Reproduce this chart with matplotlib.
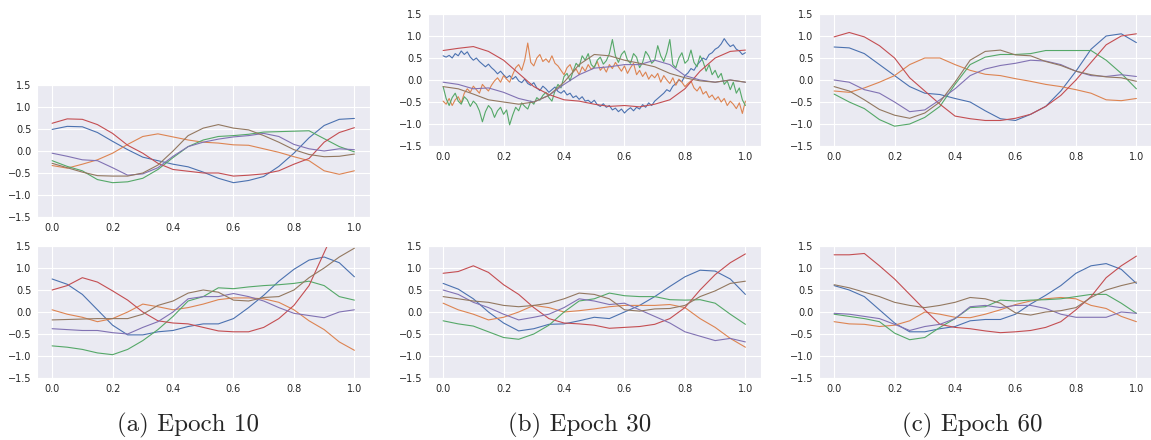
import numpy as np
import matplotlib.pyplot as plt
import seaborn as sns

sns.set_style("darkgrid")
colors = sns.color_palette("deep")[:6]

# x 좌표 (smooth: 0.05 간격, noisy: 0.01 간격)
x = np.linspace(0, 1, 21)
x_noisy = np.linspace(0, 1, 101)

# ---- Epoch 10 ----
e10_top_blue = [0.49, 0.56, 0.55, 0.42, 0.22, 0.03, -0.14, -0.22, -0.30, -0.36, -0.48, -0.62, -0.72, -0.67, -0.58, -0.35, -0.05, 0.30, 0.58, 0.72, 0.74]
e10_top_orange = [-0.33, -0.39, -0.30, -0.20, -0.05, 0.15, 0.33, 0.39, 0.32, 0.25, 0.20, 0.18, 0.14, 0.13, 0.05, -0.03, -0.13, -0.22, -0.45, -0.53, -0.45]
e10_top_green = [-0.22, -0.35, -0.45, -0.65, -0.72, -0.70, -0.62, -0.42, -0.15, 0.10, 0.25, 0.33, 0.35, 0.38, 0.43, 0.44, 0.45, 0.46, 0.28, 0.10, -0.02]
e10_top_red = [0.63, 0.73, 0.72, 0.60, 0.40, 0.13, -0.05, -0.28, -0.42, -0.46, -0.50, -0.50, -0.57, -0.55, -0.52, -0.45, -0.30, -0.17, 0.20, 0.42, 0.53]
e10_top_purple = [-0.05, -0.12, -0.20, -0.22, -0.38, -0.55, -0.52, -0.38, -0.12, 0.10, 0.20, 0.27, 0.32, 0.35, 0.40, 0.33, 0.15, 0.05, 0.00, 0.05, 0.03]
e10_top_brown = [-0.28, -0.38, -0.48, -0.56, -0.57, -0.57, -0.50, -0.32, 0.00, 0.35, 0.52, 0.60, 0.52, 0.48, 0.35, 0.20, 0.03, -0.08, -0.13, -0.12, -0.07]

e10_bot_blue = [0.75, 0.63, 0.40, 0.05, -0.30, -0.52, -0.52, -0.45, -0.42, -0.33, -0.27, -0.27, -0.15, 0.10, 0.38, 0.70, 0.97, 1.18, 1.25, 1.12, 0.80]
e10_bot_orange = [0.05, -0.05, -0.12, -0.22, -0.15, 0.00, 0.18, 0.12, 0.05, 0.10, 0.18, 0.28, 0.32, 0.32, 0.30, 0.22, 0.05, -0.20, -0.40, -0.68, -0.87]
e10_bot_green = [-0.77, -0.80, -0.85, -0.93, -0.97, -0.85, -0.65, -0.40, -0.10, 0.25, 0.35, 0.55, 0.53, 0.57, 0.60, 0.62, 0.65, 0.70, 0.60, 0.35, 0.27]
e10_bot_red = [0.50, 0.60, 0.78, 0.68, 0.48, 0.27, 0.00, -0.20, -0.25, -0.27, -0.35, -0.43, -0.45, -0.45, -0.35, -0.15, 0.15, 0.60, 1.35, 2.10, 2.60]
e10_bot_purple = [-0.38, -0.40, -0.42, -0.42, -0.47, -0.50, -0.35, -0.22, 0.00, 0.30, 0.35, 0.35, 0.42, 0.35, 0.25, 0.10, -0.03, -0.08, -0.13, 0.00, 0.05]
e10_bot_brown = [-0.18, -0.17, -0.16, -0.15, -0.15, -0.15, -0.05, 0.15, 0.25, 0.43, 0.50, 0.45, 0.27, 0.25, 0.33, 0.35, 0.50, 0.78, 1.00, 1.25, 1.45]

# ---- Epoch 30 ----
e30_top_blue = [0.55, 0.52, 0.56, 0.50, 0.60, 0.55, 0.66, 0.58, 0.64, 0.52,
                0.45, 0.50, 0.42, 0.36, 0.30, 0.36, 0.28, 0.22, 0.14, 0.20,
                0.12, 0.05, 0.10, 0.02, 0.08, -0.02, -0.06, 0.02, -0.08, -0.12,
                -0.06, -0.18, -0.24, -0.14, -0.20, -0.28, -0.22, -0.16, -0.26, -0.30,
                -0.24, -0.34, -0.30, -0.40, -0.36, -0.44, -0.38, -0.48, -0.46, -0.52,
                -0.46, -0.56, -0.60, -0.54, -0.62, -0.58, -0.68, -0.64, -0.72, -0.66,
                -0.75, -0.68, -0.63, -0.70, -0.62, -0.66, -0.56, -0.62, -0.52, -0.58,
                -0.48, -0.42, -0.36, -0.30, -0.22, -0.26, -0.14, -0.08, 0.00, -0.04,
                0.10, 0.16, 0.26, 0.22, 0.34, 0.42, 0.50, 0.46, 0.58, 0.62,
                0.70, 0.74, 0.82, 0.94, 0.84, 0.76, 0.80, 0.70, 0.66, 0.58,
                0.62]
e30_top_orange = [-0.48, -0.55, -0.42, -0.58, -0.45, -0.38, -0.52, -0.30, -0.20, -0.28,
                  -0.14, -0.22, -0.30, -0.10, -0.18, -0.25, -0.12, -0.02, 0.05, -0.05,
                  0.10, 0.02, -0.05, 0.12, 0.28, 0.35, 0.22, 0.45, 0.84, 0.40,
                  0.32, 0.50, 0.58, 0.42, 0.48, 0.40, 0.55, 0.38, 0.32, 0.22,
                  0.12, 0.28, 0.35, 0.18, 0.25, 0.12, 0.30, 0.20, 0.35, 0.24,
                  0.30, 0.42, 0.22, 0.30, 0.18, 0.35, 0.26, 0.40, 0.30, 0.20,
                  0.32, 0.15, 0.28, 0.38, 0.12, 0.22, 0.08, 0.18, 0.02, 0.12,
                  0.05, 0.15, -0.05, 0.10, 0.00, -0.08, 0.05, -0.12, 0.02, -0.05,
                  -0.15, -0.08, -0.02, -0.18, -0.25, -0.15, -0.32, -0.26, -0.40, -0.34,
                  -0.45, -0.38, -0.50, -0.42, -0.58, -0.48, -0.55, -0.65, -0.52, -0.76,
                  -0.48]
e30_top_green = [-0.15, -0.42, -0.58, -0.40, -0.30, -0.48, -0.55, -0.38, -0.45, -0.60,
                 -0.48, -0.55, -0.70, -0.95, -0.72, -0.58, -0.66, -0.85, -0.70, -0.62,
                 -0.78, -0.68, -1.02, -0.80, -0.62, -0.70, -0.52, -0.60, -0.66, -0.48,
                 -0.55, -0.40, -0.46, -0.35, -0.28, -0.40, -0.48, -0.25, -0.10, -0.18,
                 0.08, 0.15, -0.02, 0.20, 0.38, 0.30, 0.55, 0.45, 0.60, 0.35,
                 0.28, 0.45, 0.52, 0.36, 0.44, 0.60, 0.92, 0.55, 0.40, 0.58,
                 0.66, 0.45, 0.38, 0.60, 0.52, 0.28, 0.40, 0.65, 0.55, 0.38,
                 0.45, 0.78, 0.55, 0.42, 0.62, 0.92, 0.35, 0.28, 0.50, 0.62,
                 0.38, 0.45, 0.68, 0.40, 0.30, 0.55, 0.42, 0.20, 0.35, 0.12,
                 0.22, 0.05, 0.15, -0.10, -0.02, -0.22, -0.05, -0.30, -0.18, -0.45,
                 -0.58]
e30_top_red = [0.67, 0.72, 0.76, 0.65, 0.45, 0.15, -0.15, -0.33, -0.45, -0.48, -0.55, -0.60, -0.58, -0.61, -0.55, -0.45, -0.20, 0.20, 0.50, 0.65, 0.68]
e30_top_purple = [-0.05, -0.10, -0.20, -0.18, -0.28, -0.42, -0.50, -0.35, -0.10, 0.12, 0.27, 0.30, 0.35, 0.35, 0.45, 0.35, 0.10, 0.00, -0.05, 0.00, -0.05]
e30_top_brown = [-0.15, -0.20, -0.32, -0.45, -0.50, -0.55, -0.50, -0.35, -0.05, 0.35, 0.58, 0.55, 0.45, 0.38, 0.30, 0.15, 0.05, -0.02, -0.05, 0.00, -0.05]

e30_bot_blue = [0.65, 0.52, 0.30, 0.00, -0.25, -0.43, -0.38, -0.28, -0.27, -0.20, -0.12, -0.15, 0.00, 0.15, 0.35, 0.58, 0.80, 0.95, 0.93, 0.75, 0.40]
e30_bot_orange = [0.20, 0.05, -0.05, -0.18, -0.12, 0.00, 0.15, 0.10, 0.00, 0.03, 0.07, 0.12, 0.15, 0.15, 0.15, 0.17, 0.10, -0.15, -0.35, -0.60, -0.80]
e30_bot_green = [-0.20, -0.27, -0.32, -0.45, -0.58, -0.62, -0.50, -0.30, 0.00, 0.25, 0.30, 0.43, 0.37, 0.35, 0.35, 0.28, 0.27, 0.28, 0.20, -0.05, -0.28]
e30_bot_red = [0.88, 0.92, 1.05, 0.90, 0.62, 0.40, 0.10, -0.15, -0.25, -0.27, -0.30, -0.37, -0.35, -0.33, -0.28, -0.15, 0.10, 0.50, 0.85, 1.12, 1.32]
e30_bot_purple = [0.50, 0.40, 0.22, 0.10, -0.05, -0.18, -0.12, -0.05, 0.10, 0.30, 0.25, 0.17, 0.20, 0.05, -0.10, -0.25, -0.45, -0.55, -0.65, -0.60, -0.68]
e30_bot_brown = [0.35, 0.30, 0.25, 0.22, 0.15, 0.12, 0.15, 0.20, 0.30, 0.43, 0.40, 0.30, 0.05, 0.02, 0.07, 0.08, 0.15, 0.35, 0.48, 0.65, 0.70]

# ---- Epoch 60 ----
e60_top_blue = [0.75, 0.73, 0.60, 0.35, 0.10, -0.15, -0.30, -0.33, -0.42, -0.50, -0.70, -0.88, -0.92, -0.78, -0.60, -0.25, 0.20, 0.70, 1.00, 1.05, 0.85]
e60_top_orange = [-0.25, -0.28, -0.18, -0.05, 0.10, 0.35, 0.50, 0.50, 0.35, 0.22, 0.13, 0.10, 0.03, -0.03, -0.10, -0.15, -0.22, -0.30, -0.45, -0.47, -0.42]
e60_top_green = [-0.32, -0.50, -0.65, -0.90, -1.05, -1.00, -0.85, -0.60, -0.10, 0.35, 0.52, 0.58, 0.58, 0.60, 0.67, 0.67, 0.67, 0.67, 0.45, 0.15, -0.20]
e60_top_red = [0.98, 1.08, 0.98, 0.78, 0.50, 0.05, -0.25, -0.55, -0.82, -0.88, -0.92, -0.92, -0.87, -0.78, -0.60, -0.35, 0.00, 0.40, 0.80, 1.00, 1.05]
e60_top_purple = [0.00, -0.05, -0.22, -0.30, -0.50, -0.72, -0.68, -0.45, -0.20, 0.10, 0.25, 0.33, 0.38, 0.45, 0.43, 0.35, 0.20, 0.10, 0.08, 0.12, 0.08]
e60_top_brown = [-0.15, -0.25, -0.45, -0.67, -0.80, -0.87, -0.75, -0.50, -0.05, 0.45, 0.65, 0.68, 0.57, 0.55, 0.42, 0.33, 0.20, 0.12, 0.07, 0.05, -0.03]

e60_bot_blue = [0.60, 0.50, 0.35, 0.05, -0.25, -0.45, -0.45, -0.38, -0.33, -0.20, -0.17, -0.17, -0.05, 0.18, 0.38, 0.60, 0.88, 1.05, 1.10, 0.97, 0.65]
e60_bot_orange = [-0.22, -0.27, -0.28, -0.33, -0.30, -0.20, 0.00, -0.05, -0.12, -0.13, -0.05, 0.05, 0.17, 0.25, 0.30, 0.33, 0.30, 0.15, 0.08, -0.10, -0.22]
e60_bot_green = [-0.05, -0.10, -0.15, -0.22, -0.48, -0.63, -0.58, -0.35, -0.15, 0.10, 0.12, 0.27, 0.25, 0.27, 0.28, 0.30, 0.35, 0.40, 0.40, 0.20, -0.03]
e60_bot_red = [1.30, 1.30, 1.33, 1.05, 0.75, 0.40, 0.05, -0.28, -0.35, -0.38, -0.43, -0.47, -0.45, -0.42, -0.35, -0.22, 0.05, 0.35, 0.78, 1.05, 1.27]
e60_bot_purple = [-0.03, -0.05, -0.10, -0.15, -0.28, -0.42, -0.33, -0.28, -0.15, 0.12, 0.15, 0.10, 0.15, 0.15, 0.08, -0.05, -0.12, -0.12, -0.12, 0.00, -0.03]
e60_bot_brown = [0.62, 0.55, 0.45, 0.35, 0.22, 0.15, 0.10, 0.15, 0.22, 0.33, 0.30, 0.20, -0.02, -0.07, 0.00, 0.03, 0.10, 0.33, 0.50, 0.60, 0.68]

captions = ["(a) Epoch 10", "(b) Epoch 30", "(c) Epoch 60"]

panels = [
    [e10_top_blue, e10_top_orange, e10_top_green, e10_top_red, e10_top_purple, e10_top_brown],
    [e10_bot_blue, e10_bot_orange, e10_bot_green, e10_bot_red, e10_bot_purple, e10_bot_brown],
    [e30_top_blue, e30_top_orange, e30_top_green, e30_top_red, e30_top_purple, e30_top_brown],
    [e30_bot_blue, e30_bot_orange, e30_bot_green, e30_bot_red, e30_bot_purple, e30_bot_brown],
    [e60_top_blue, e60_top_orange, e60_top_green, e60_top_red, e60_top_purple, e60_top_brown],
    [e60_bot_blue, e60_bot_orange, e60_bot_green, e60_bot_red, e60_bot_purple, e60_bot_brown],
]

W, H = 1151, 440
fig = plt.figure(figsize=(W / 100, H / 100), dpi=100)

# 축 위치 (픽셀: left, top)
ax_w, ax_h = 332.5, 132
boxes = [(37, 85), (37, 246), (428, 14), (428, 246), (819, 14), (819, 246)]

for (left, top), series in zip(boxes, panels):
    ax = fig.add_axes([left / W, (H - top - ax_h) / H, ax_w / W, ax_h / H])
    for ys, c in zip(series, colors):
        xs = x_noisy if len(ys) == len(x_noisy) else x
        ax.plot(xs, ys, color=c, lw=0.8)
    ax.set_ylim(-1.5, 1.5)
    ax.set_yticks([-1.5, -1.0, -0.5, 0.0, 0.5, 1.0, 1.5])
    ax.set_xticks([0.0, 0.2, 0.4, 0.6, 0.8, 1.0])
    ax.tick_params(labelsize=7, labelcolor=".15", length=0, pad=4)
    ax.grid(color="white", lw=0.8)

cap_x = [188, 580, 972]
for cx, text in zip(cap_x, captions):
    fig.text(cx / W, (H - 431) / H, text, family="cmr10", fontsize=18,
             ha="center", va="baseline")

plt.savefig("out.png", dpi=100)
